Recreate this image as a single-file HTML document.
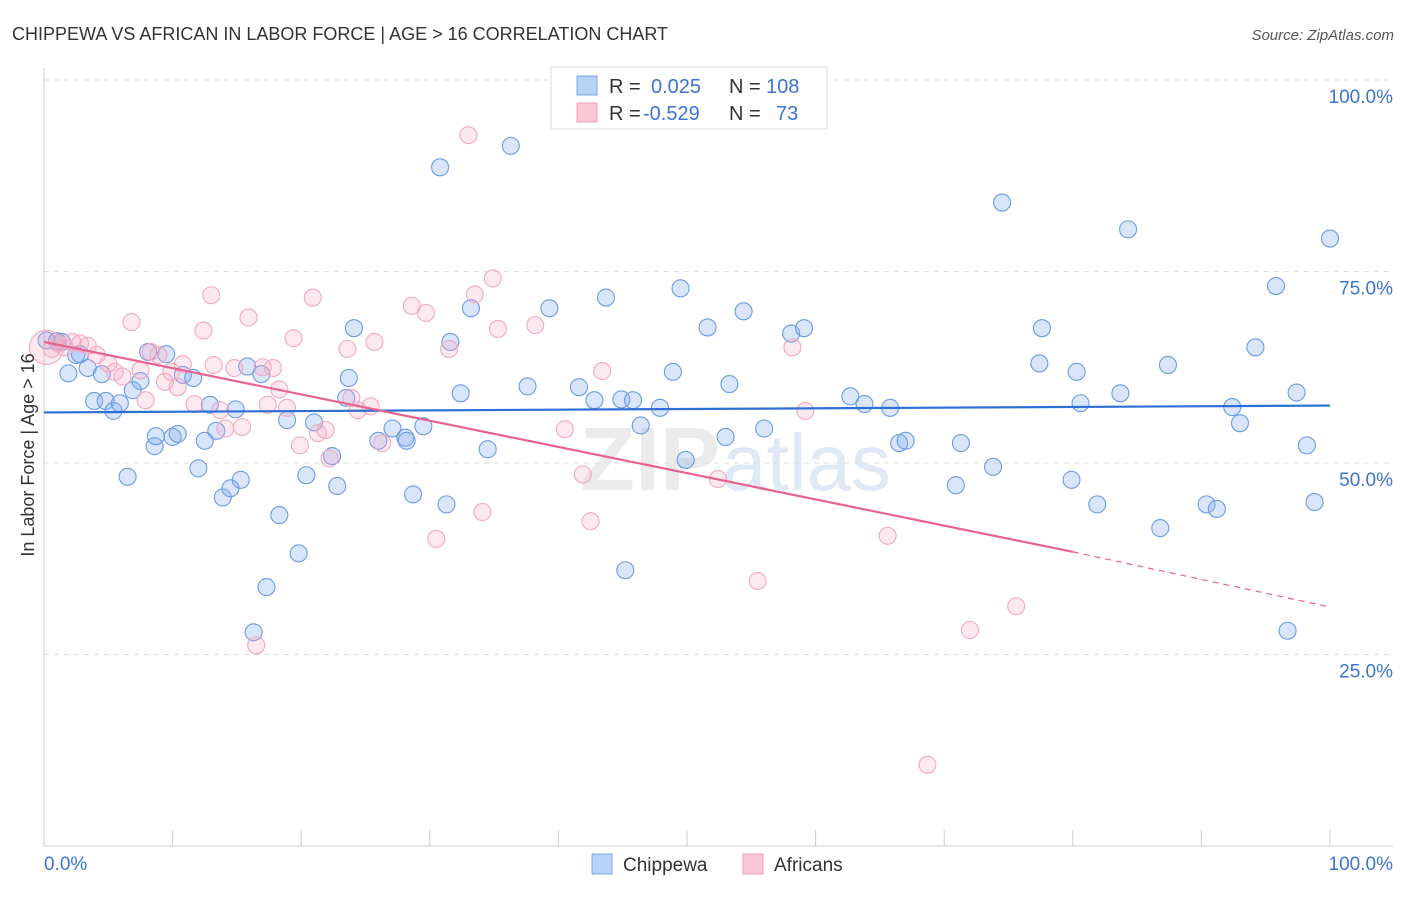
<!DOCTYPE html>
<html><head><meta charset="utf-8">
<style>
body{margin:0;background:#fff;font-family:"Liberation Sans",sans-serif;}
svg text{font-family:"Liberation Sans",sans-serif;}
</style></head>
<body>
<svg id="chart" width="1406" height="892" xmlns="http://www.w3.org/2000/svg">
<text x="12" y="40" font-size="18" fill="#333">CHIPPEWA VS AFRICAN IN LABOR FORCE | AGE &gt; 16 CORRELATION CHART</text>
<text x="1394" y="40" font-size="15" fill="#555" font-style="italic" text-anchor="end">Source: ZipAtlas.com</text>
<text x="720" y="490" font-size="90" font-weight="bold" fill="#ebebeb" text-anchor="end">ZIP</text>
<text x="722" y="490" font-size="80" fill="#dfe8f5">atlas</text>
<g id="grid"></g>
<g id="axes"></g>
<g id="pts"></g>
<g id="trends"></g>
<text transform="translate(34,455) rotate(-90)" font-size="18" fill="#333" text-anchor="middle">In Labor Force | Age &gt; 16</text>
<g>
<rect x="551" y="67" width="276" height="62" fill="#fff" stroke="#ddd"/>
<rect x="577" y="76" width="20" height="19" fill="#b7d2f5" stroke="#7aa7e6"/>
<rect x="577" y="103" width="20" height="19" fill="#f9c7d6" stroke="#f0a0b8"/>
<text x="609" y="93" font-size="20" fill="#333">R =</text>
<text x="651" y="93" font-size="20" fill="#3b74d4">0.025</text>
<text x="729" y="93" font-size="20" fill="#333">N =</text>
<text x="766" y="93" font-size="20" fill="#3b74d4">108</text>
<text x="609" y="120" font-size="20" fill="#333">R =</text>
<text x="643" y="120" font-size="20" fill="#3b74d4">-0.529</text>
<text x="729" y="120" font-size="20" fill="#333">N =</text>
<text x="776" y="120" font-size="20" fill="#3b74d4">73</text>
</g>
<g>
<rect x="592" y="854" width="20" height="20" fill="#b7d2f5" stroke="#7aa7e6"/>
<text x="623" y="871" font-size="19" fill="#333">Chippewa</text>
<rect x="743" y="854" width="20" height="20" fill="#f9c7d6" stroke="#f0a0b8"/>
<text x="774" y="871" font-size="19" fill="#333">Africans</text>
</g>
</svg>
<script>
const yTicks=[100,75,50,25];
const yTickLabels=["100.0%","75.0%","50.0%","25.0%"];
const xTickLabels=["0.0%","100.0%"];
const chipX=[0.2,1.0,1.4,1.9,2.5,2.8,3.4,3.9,4.5,4.8,5.4,5.9,6.5,6.9,7.5,8.1,8.6,8.7,9.5,10.0,10.4,10.8,11.6,12.0,12.5,12.9,13.4,13.9,14.5,14.9,15.3,15.8,16.3,16.9,17.3,18.3,18.9,19.8,20.4,21.0,22.4,22.8,23.5,23.7,24.1,26.0,27.1,28.1,28.2,28.7,29.5,30.8,31.3,31.6,32.4,33.2,34.5,36.3,37.6,39.3,41.6,42.8,43.7,44.9,45.2,45.8,46.4,47.9,48.9,49.5,49.9,51.6,53.0,53.3,54.4,56.0,58.1,59.1,62.7,63.8,65.8,66.5,67.0,70.9,71.3,73.8,74.5,77.4,77.6,79.9,80.3,80.6,81.9,83.7,84.3,86.8,87.4,90.4,91.2,92.4,93.0,94.2,95.8,96.7,97.4,98.2,98.8,100.0];
const chipY=[66.0,65.9,65.8,61.7,64.1,64.2,62.4,58.1,61.6,58.1,56.8,57.8,48.2,59.5,60.7,64.5,52.2,53.5,64.2,53.4,53.8,61.5,61.1,49.3,52.9,57.6,54.2,45.5,46.7,57.0,47.8,62.6,27.9,61.6,33.8,43.2,55.6,38.2,48.4,55.3,50.9,47.0,58.5,61.1,67.6,52.9,54.5,53.3,52.9,45.9,54.8,88.6,44.6,65.8,59.1,70.2,51.8,91.4,60.0,70.2,59.9,58.2,71.6,58.3,36.0,58.2,54.9,57.2,61.9,72.8,50.4,67.7,53.4,60.3,69.8,54.5,66.9,67.6,58.7,57.7,57.2,52.6,52.9,47.1,52.6,49.5,84.0,63.0,67.6,47.8,61.9,57.8,44.6,59.1,80.5,41.5,62.8,44.6,44.0,57.3,55.2,65.1,73.1,28.1,59.2,52.3,44.9,79.3];
const afrX=[0.2,0.6,1.1,1.6,2.2,2.8,3.4,4.1,5.0,5.5,6.1,6.8,7.5,7.9,8.3,8.9,9.4,9.9,10.4,10.8,11.7,12.4,13.0,13.2,13.7,14.1,14.8,15.4,15.9,16.5,17.0,17.4,17.8,18.3,18.9,19.4,19.9,20.9,21.3,21.9,22.2,23.6,23.9,24.4,25.4,25.7,26.3,28.6,29.7,30.5,31.5,33.0,33.5,34.1,34.9,35.3,38.2,40.5,41.9,42.5,43.4,52.4,55.5,58.2,59.2,65.6,68.7,72.0,75.6];
const afrY=[65.1,64.9,65.6,65.1,65.8,65.6,65.3,64.1,63.0,61.9,61.3,68.4,62.1,58.2,64.5,64.1,60.6,61.9,59.9,62.9,57.7,67.3,71.9,62.8,56.9,54.5,62.4,54.7,69.0,26.2,62.5,57.6,62.4,59.6,57.2,66.3,52.3,71.6,53.9,54.3,50.6,64.9,58.5,56.9,57.4,65.8,52.6,70.5,69.6,40.1,64.9,92.8,72.0,43.6,74.1,67.5,68.0,54.4,48.5,42.4,62.0,47.9,34.6,65.1,56.8,40.5,10.6,28.2,31.3];
const chipTrend=[56.6,57.5];      // y at x=0 and x=100
const afrTrendX=[0,80,100];
const afrTrendY=[65.8,38.4,31.2];

const NS="http://www.w3.org/2000/svg";
const sx=v=>44+v*12.86;
const sy=v=>846-v*7.66;
function mk(tag,attrs,parent){const e=document.createElementNS(NS,tag);for(const k in attrs)e.setAttribute(k,attrs[k]);parent.appendChild(e);return e;}
const grid=document.getElementById('grid'),axes=document.getElementById('axes'),pts=document.getElementById('pts'),tr=document.getElementById('trends');
yTicks.forEach((t,i)=>{
  const l=mk('line',{x1:44,x2:1393,y1:sy(t),y2:sy(t),stroke:'#ddd','stroke-dasharray':'5,5'},grid);
  
  
  const tx=mk('text',{x:1393,y:sy(t)+23,'font-size':19,fill:'#3b74d4','text-anchor':'end'},grid);
  tx.textContent=yTickLabels[i];
  
  
});
const ya=mk('line',{x1:44,x2:44,y1:68,y2:846,stroke:'#ccc'},axes);


const xa=mk('line',{x1:44,x2:1393,y1:846,y2:846,stroke:'#ccc'},axes);


for(let i=0;i<=10;i++){
  const t=mk('line',{x1:sx(i*10),x2:sx(i*10),y1:830,y2:846,stroke:'#ccc'},axes);
  
  
}
[[0,'start'],[100,'end']].forEach((p,i)=>{
  const tx=mk('text',{x:i?1393:44,y:870,'font-size':19,fill:'#3b74d4','text-anchor':p[1]},axes);
  tx.textContent=xTickLabels[i];
  
  
});
chipX.forEach((x,i)=>{
  const c=mk('circle',{cx:sx(x),cy:sy(chipY[i]),r:8.5,fill:'rgba(130,172,236,0.3)',stroke:'#6b9be4','stroke-width':1.1},pts);
  
  
});
afrX.forEach((x,i)=>{
  const c=mk('circle',{cx:sx(x),cy:sy(afrY[i]),r:i===0?17:8.5,fill:'rgba(245,165,195,0.26)',stroke:'#f2aac1','stroke-width':1.1},pts);
  
  
});
const bt=mk('line',{x1:sx(0),y1:sy(chipTrend[0]),x2:sx(100),y2:sy(chipTrend[1]),stroke:'#2d6fd6','stroke-width':2.2},tr);


const pt=mk('line',{x1:sx(afrTrendX[0]),y1:sy(afrTrendY[0]),x2:sx(afrTrendX[1]),y2:sy(afrTrendY[1]),stroke:'#e8628f','stroke-width':2.2},tr);


const pd=mk('line',{x1:sx(afrTrendX[1]),y1:sy(afrTrendY[1]),x2:sx(afrTrendX[2]),y2:sy(afrTrendY[2]),stroke:'#e8628f','stroke-width':1.2,'stroke-dasharray':'6,5'},tr);


</script>
</body></html>
